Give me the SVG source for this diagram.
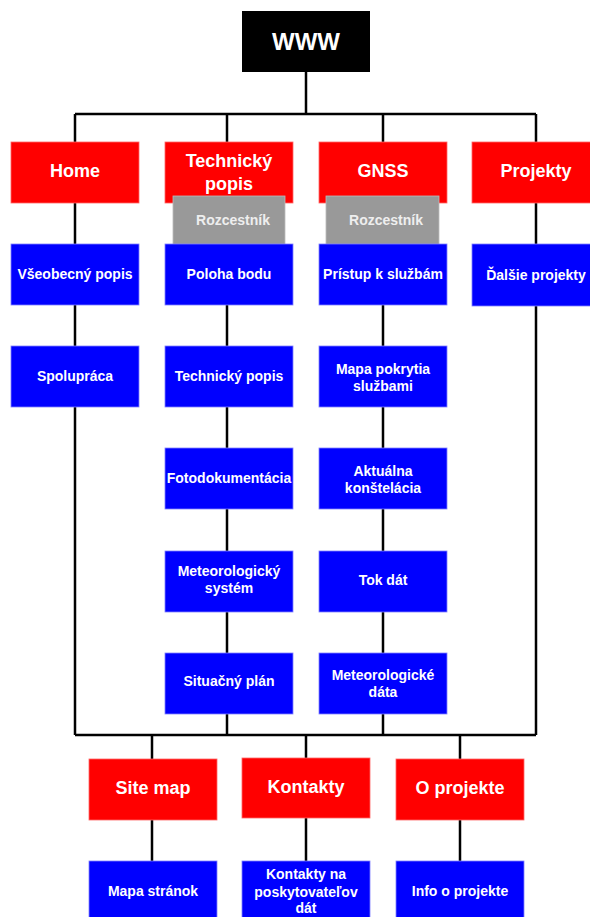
<svg xmlns="http://www.w3.org/2000/svg" width="590" height="917" viewBox="0 0 590 917">
<style>
.red{fill:#ff0000;stroke:#ff6666;stroke-width:0.8}
.blue{fill:#0000ff;stroke:#8080ff;stroke-width:0.8}
.gray{fill:#999999;stroke:#bbbbbb;stroke-width:0.8}
.blk{fill:#000000}
text{font-family:"Liberation Sans",Arial,sans-serif;font-weight:bold;fill:#ffffff;text-anchor:middle}
.t18{font-size:18px}
.t14{font-size:14px}
.t24{font-size:24px}
.tg{font-size:14px;fill:#eeeeee}
.ln{stroke:#000;stroke-width:2.5;fill:none}
</style>
<g id="connectors">
<path class="ln" d="M306 72V114M75 114H536M75 114V735M227 114V735M383 114V735M536 114V735M75 735H536M152 735V861M306 735V861M460 735V861"/>
</g>
<g id="www"><rect class="blk" x="242" y="11" width="128" height="61"/><text class="t24" x="306" y="50">WWW</text></g>
<g id="home"><rect class="red" x="11" y="142" width="128" height="61"/><text class="t18" x="75" y="177">Home</text></g>
<g id="tech"><rect class="red" x="165" y="142" width="128" height="61"/><text class="t18" x="229" y="167">Technický</text><text class="t18" x="229" y="190">popis</text></g>
<g id="gnss"><rect class="red" x="319" y="142" width="128" height="61"/><text class="t18" x="383" y="177">GNSS</text></g>
<g id="projekty"><rect class="red" x="472" y="142" width="128" height="61"/><text class="t18" x="536" y="177">Projekty</text></g>
<g id="roz1"><rect class="gray" x="173" y="196" width="112" height="51"/><text class="tg" x="233" y="225">Rozcestník</text></g>
<g id="roz2"><rect class="gray" x="326" y="196" width="113" height="51"/><text class="tg" x="386" y="225">Rozcestník</text></g>
<g id="vseobecny"><rect class="blue" x="11" y="244" width="128" height="61"/><text class="t14" x="75" y="279">Všeobecný popis</text></g>
<g id="spolupraca"><rect class="blue" x="11" y="346" width="128" height="61"/><text class="t14" x="75" y="381">Spolupráca</text></g>
<g id="poloha"><rect class="blue" x="165" y="244" width="128" height="61"/><text class="t14" x="229" y="279">Poloha bodu</text></g>
<g id="techpopis"><rect class="blue" x="165" y="346" width="128" height="61"/><text class="t14" x="229" y="381">Technický popis</text></g>
<g id="foto"><rect class="blue" x="165" y="448" width="128" height="61"/><text class="t14" x="229" y="483">Fotodokumentácia</text></g>
<g id="meteosys"><rect class="blue" x="165" y="551" width="128" height="61"/><text class="t14" x="229" y="576">Meteorologický</text><text class="t14" x="229" y="593">systém</text></g>
<g id="situacny"><rect class="blue" x="165" y="653" width="128" height="61"/><text class="t14" x="229" y="686">Situačný plán</text></g>
<g id="pristup"><rect class="blue" x="319" y="244" width="128" height="61"/><text class="t14" x="383" y="279">Prístup k službám</text></g>
<g id="mapa"><rect class="blue" x="319" y="346" width="128" height="61"/><text class="t14" x="383" y="374">Mapa pokrytia</text><text class="t14" x="383" y="391">službami</text></g>
<g id="aktualna"><rect class="blue" x="319" y="448" width="128" height="61"/><text class="t14" x="383" y="476">Aktuálna</text><text class="t14" x="383" y="493">konštelácia</text></g>
<g id="tok"><rect class="blue" x="319" y="551" width="128" height="61"/><text class="t14" x="383" y="585">Tok dát</text></g>
<g id="meteodata"><rect class="blue" x="319" y="653" width="128" height="61"/><text class="t14" x="383" y="680">Meteorologické</text><text class="t14" x="383" y="697">dáta</text></g>
<g id="dalsie"><rect class="blue" x="472" y="244" width="128" height="62"/><text class="t14" x="536" y="280">Ďalšie projekty</text></g>
<g id="sitemap"><rect class="red" x="89" y="759" width="128" height="61"/><text class="t18" x="153" y="794">Site map</text></g>
<g id="kontakty"><rect class="red" x="242" y="758" width="128" height="60"/><text class="t18" x="306" y="793">Kontakty</text></g>
<g id="oprojekte"><rect class="red" x="396" y="759" width="128" height="61"/><text class="t18" x="460" y="794">O projekte</text></g>
<g id="mapastranok"><rect class="blue" x="89" y="861" width="128" height="61"/><text class="t14" x="153" y="896">Mapa stránok</text></g>
<g id="kontaktyna"><rect class="blue" x="242" y="861" width="128" height="61"/><text class="t14" x="306" y="879">Kontakty na</text><text class="t14" x="306" y="897">poskytovateľov</text><text class="t14" x="306" y="913">dát</text></g>
<g id="info"><rect class="blue" x="396" y="861" width="128" height="61"/><text class="t14" x="460" y="896">Info o projekte</text></g>
</svg>
